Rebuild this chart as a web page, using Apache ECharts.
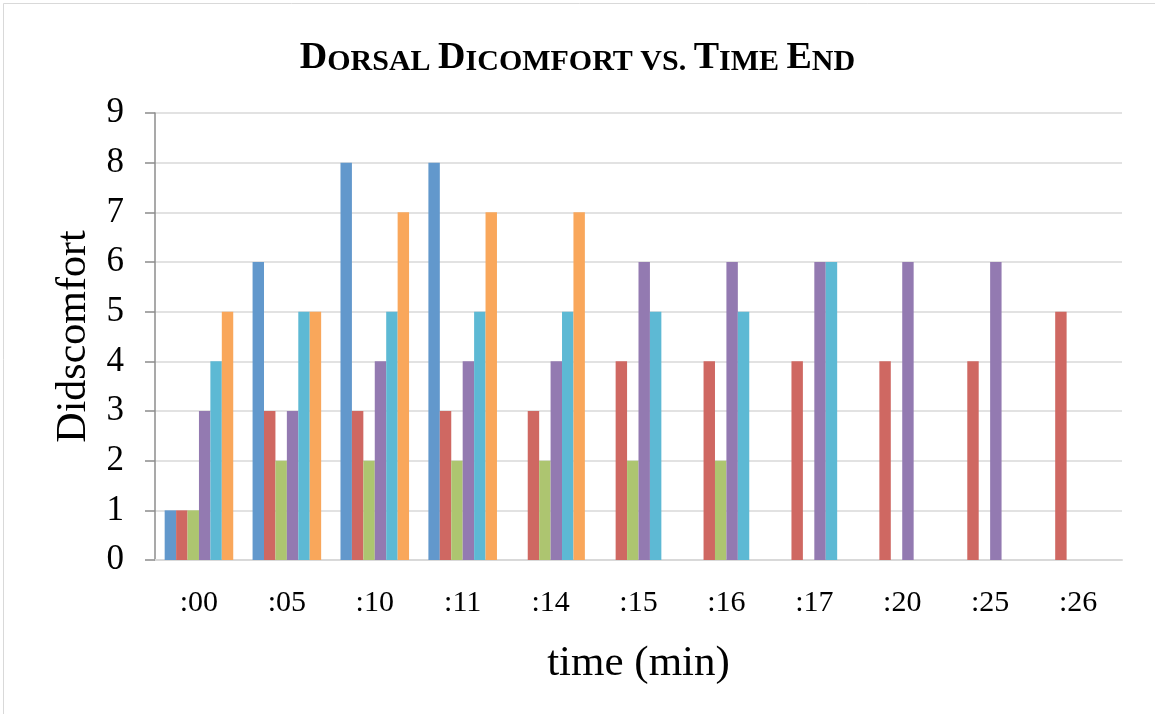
<!DOCTYPE html>
<html><head><meta charset="utf-8">
<script src="https://cdn.jsdelivr.net/npm/echarts@6/dist/echarts.min.js"></script>
<style>html,body{margin:0;padding:0;background:#fff}#c{width:1155px;height:714px}</style>
</head><body><div id="c"></div>
<script>
const categories = [':00', ':05', ':10', ':11', ':14', ':15', ':16', ':17', ':20', ':25', ':26'];
const seriesA = [1, 6, 8, 8, null, null, null, null, null, null, null];
const seriesB = [1, 3, 3, 3, 3, 4, 4, 4, 4, 4, 5];
const seriesC = [1, 2, 2, 2, 2, 2, 2, null, null, null, null];
const seriesD = [3, 3, 4, 4, 4, 6, 6, 6, 6, 6, null];
const seriesE = [4, 5, 5, 5, 5, 5, 5, 6, null, null, null];
const seriesF = [5, 5, 7, 7, 7, null, null, null, null, null, null];
const yTicks = [0, 1, 2, 3, 4, 5, 6, 7, 8, 9];
const colors = ['#6298CC', '#CF6862', '#ADC570', '#937AB1', '#5DB9D4', '#F9A75B'];

const chart = echarts.init(document.getElementById('c'));
const serif = '"Liberation Serif", "Times New Roman", serif';
const allSeries = [seriesA, seriesB, seriesC, seriesD, seriesE, seriesF];
chart.setOption({
  animation: false,
  backgroundColor: '#fff',
  title: {
    text: '{b|D}{s|ORSAL }{b|D}{s|ICOMFORT VS. }{b|T}{s|IME }{b|E}{s|ND}',
    left: 'center', top: 34,
    textStyle: {
      rich: {
        b: { fontFamily: serif, fontWeight: 'bold', fontSize: 38, color: '#000', verticalAlign: 'bottom' },
        s: { fontFamily: serif, fontWeight: 'bold', fontSize: 30, color: '#000', verticalAlign: 'bottom' }
      }
    }
  },
  graphic: [{
    type: 'rect', shape: { x: 3.5, y: 3.5, width: 1160, height: 720 },
    style: { fill: 'none', stroke: '#d9d9d9', lineWidth: 1 }, silent: true
  }],
  grid: { left: 155, right: 33, top: 113, bottom: 154, containLabel: false },
  xAxis: {
    type: 'category', data: categories,
    axisLine: { lineStyle: { color: '#d9d9d9', width: 2 } },
    axisTick: { show: false },
    axisLabel: { fontFamily: serif, fontSize: 30, color: '#000', margin: 28 },
    name: 'time (min)', nameLocation: 'middle', nameGap: 82,
    nameTextStyle: { fontFamily: serif, fontSize: 43, color: '#000' }
  },
  yAxis: {
    type: 'value', min: 0, max: 9, interval: 1,
    axisLine: { show: true, lineStyle: { color: '#8c8c8c', width: 1.5 } },
    axisTick: { show: true, length: 10, lineStyle: { color: '#8c8c8c', width: 1.5 } },
    splitLine: { lineStyle: { color: '#d9d9d9', width: 1.5 } },
    axisLabel: { fontFamily: serif, fontSize: 35, color: '#000', margin: 31,
      formatter: v => yTicks.includes(v) ? String(v) : '' },
    name: 'Didscomfort', nameLocation: 'middle', nameGap: 60,
    nameTextStyle: { fontFamily: serif, fontSize: 42, color: '#000' }
  },
  series: allSeries.map((d, i) => ({
    type: 'bar', data: d, barGap: '0%', barCategoryGap: '22%',
    itemStyle: { color: colors[i] }
  }))
});
</script></body></html>
